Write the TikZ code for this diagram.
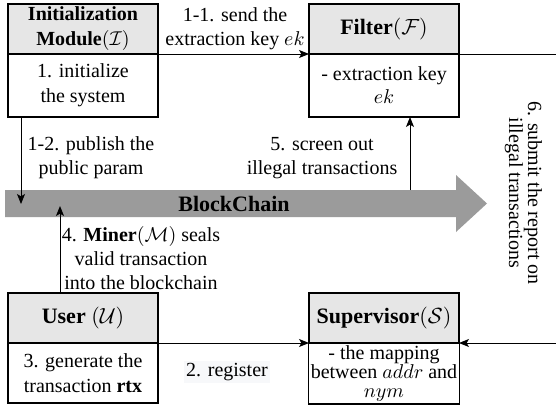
\documentclass[tikz,border=0pt]{standalone}
\usepackage{fontspec}
\setmainfont{LiberationSerif}[Extension=.ttf, UprightFont=*-Regular, BoldFont=*-Bold, ItalicFont=*-Italic, BoldItalicFont=*-BoldItalic]
\usetikzlibrary{arrows.meta,calc}
\definecolor{hdr}{HTML}{E6E6E6}
\definecolor{bandgray}{HTML}{9B9B9B}
\definecolor{regbg}{HTML}{F7F8FA}
\begin{document}
\begin{tikzpicture}[x=0.5pt,y=-0.5pt,
  font=\fontsize{10}{12}\selectfont,
  hdrbox/.style={draw, line width=0.6pt, fill=hdr, minimum width=75pt, minimum height=25pt, outer sep=0pt, inner sep=1pt, align=center, font=\fontsize{11}{12.5}\selectfont},
  bodybox/.style={draw, line width=0.6pt, fill=white, minimum width=75pt, outer sep=0pt, inner sep=1pt, align=center},
  lbl/.style={align=center, inner sep=0pt},
  arr/.style={-{Stealth[length=5pt,width=4pt,inset=1.2pt]}, line width=0.5pt},
  conn/.style={line width=0.5pt}]
\useasboundingbox (0,0) rectangle (556,412);

% BlockChain band
\fill[bandgray] (5,190) -- (456,190) -- (456,175) -- (487,203.5) -- (456,232) -- (456,217) -- (5,217) -- cycle;
\node[lbl, font=\fontsize{11}{13}\selectfont\bfseries] (bc) at (234,203.5) {BlockChain};
\coordinate (bcdown) at (21,204);
\coordinate (bcup) at (60,206);
\coordinate (bcfilter) at (410,190);

% Boxes
\node[hdrbox, font=\fontsize{10}{12.5}\selectfont] (inith) at (83,29) {\textbf{Initialization}\\\textbf{Module}$(\mathcal{I})$};
\node[bodybox, minimum height=31.5pt, font=\fontsize{10}{12.5}\selectfont] (initb) at (83,85.5) {1. initialize\\the system};

\node[hdrbox] (filterh) at (384,29) {\textbf{Filter}$(\mathcal{F})$};
\node[bodybox, minimum height=31.5pt, font=\fontsize{10}{11.5}\selectfont] (filterb) at (384,85.5) {- extraction key\\$ek$};

\node[hdrbox] (userh) at (83,318) {\textbf{User} $(\mathcal{U})$};
\node[bodybox, minimum height=30pt, font=\fontsize{10}{12.5}\selectfont] (userb) at (83,373) {3. generate the\\transaction $\mathbf{rtx}$};

\node[hdrbox] (superh) at (384,318) {\textbf{Supervisor}$(\mathcal{S})$};
\node[bodybox, minimum height=30.5pt, font=\fontsize{10}{9.5}\selectfont] (superb) at (384,373.5) {- the mapping\\between $addr$ and\\$nym$};

% right edge coordinates
\coordinate (redgetop) at (556,54);
\coordinate (redgebot) at (556,343);

% connectors
\draw[arr] (inith.south east) -- (filterh.south west);
\draw[conn] (filterh.south east) -- (redgetop);
\draw[arr] (redgebot) -- (superh.south east);
\draw[arr] (userh.south east) -- (superh.south west);
\draw[arr] ($(initb.south west)+(13,0)$) -- (bcdown);
\draw[arr] ($(userh.north west)+(52,0)$) -- (bcup);
\draw[arr] (bcfilter) -- ($(filterb.south west)+(101,0)$);

% labels
\node[lbl] (l11) at (235,29) {1-1. send the\\extraction key $ek$};
\node[lbl] (l12) at (91,158) {1-2. publish the\\public param};
\node[lbl] (l5) at (322,158) {5. screen out\\illegal transactions};
\node[lbl] (l4) at (141,258) {4. \textbf{Miner}$(\mathcal{M})$ seals\\valid transaction\\into the blockchain};
\node[lbl, fill=regbg, inner sep=1pt] (l2) at (227,372) {2. register};
\node[lbl, rotate=-90] (l6a) at (533,193) {6. submit the report on};
\node[lbl, rotate=-90] (l6b) at (514,193) {illegal transactions};
\end{tikzpicture}
\end{document}
